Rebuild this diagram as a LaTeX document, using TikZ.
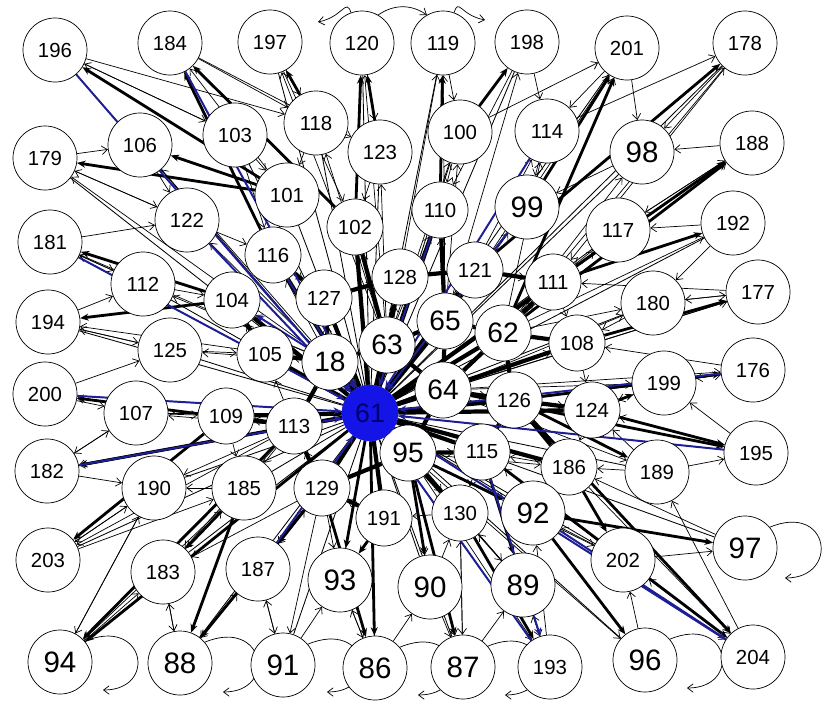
\documentclass[tikz,border=0pt]{standalone}
\usepackage{fontspec}
\setmainfont{Liberation Sans}
\usetikzlibrary{arrows.meta}
\definecolor{hubblue}{RGB}{20,20,230}
\definecolor{arcblue}{RGB}{30,30,150}
\pgfdeclarelayer{netback}
\pgfsetlayers{netback,main}
\tikzset{
    netvertex/.style={draw, circle, fill=white, inner sep=0pt, minimum size=1.6cm, line width=0.5pt, font=\fontsize{14.5}{15}\selectfont},
    netvertexinner/.style={netvertex, minimum size=1.4cm},
    netvertexbig/.style={netvertex, font=\fontsize{21}{22}\selectfont},
    netvertexcore/.style={netvertexinner, font=\fontsize{20}{21}\selectfont},
    nethub/.style={draw=hubblue, circle, fill=hubblue, inner sep=0pt, minimum size=1.4cm, text=blue!45!black, font=\fontsize{19}{20}\selectfont},
    netspoke/.style={draw, line width=0.6pt},
    netspokethick/.style={draw, line width=3pt},
    netarc/.style={draw, line width=0.5pt, -{Straight Barb[length=4pt,width=6pt]}},
    netarcthick/.style={draw, line width=2pt, -{Stealth[length=6pt,width=5pt]}},
    netarcblue/.style={draw=arcblue, line width=1.4pt, -{Stealth[length=6pt,width=5pt]}},
    netloop/.style={draw, line width=0.5pt, -{Straight Barb[length=4pt,width=6pt]}}
}
\begin{document}
\begin{tikzpicture}[x=0.025cm, y=0.025cm]
    \useasboundingbox (0,0) rectangle (828,-705);
    \foreach \n/\x/\y in {196/55/50, 184/170/43, 197/270/42, 120/362/43, 119/443/43, 198/527/42, 201/627/48, 178/745/43,
        179/45/158, 106/140/145, 103/235/135, 118/316/123, 123/380/152, 100/460/132, 114/547/131, 188/752/143,
        117/618/230, 192/733/223, 122/187/220, 181/50/242, 101/287/195,
        180/653/303, 177/758/292, 112/143/284, 194/48/322, 176/753/370,
        125/170/350, 200/45/394, 199/664/383, 195/756/453,
        107/136/413, 182/47/471, 190/154/488, 185/244/488,
        189/657/472, 202/623/560, 203/48/560, 183/163/572, 187/258/569,
        193/550/667, 204/753/657}
        \node[netvertex] (v\n) at (\x,-\y) {\n};
    \foreach \n/\x/\y in {102/355/227, 110/440/210, 116/273/255, 128/400/277, 121/475/270, 111/553/282,
        104/232/300, 127/324/298, 108/577/343, 105/265/354, 126/514/400, 124/592/410,
        109/226/416, 113/294/426, 129/322/488, 191/384/518, 115/482/452, 186/569/467, 130/460/513}
        \node[netvertexinner] (v\n) at (\x,-\y) {\n};
    \foreach \n/\x/\y in {98/642/152, 99/527/207, 92/533/513, 93/340/580, 90/430/587, 89/523/585, 97/745/548,
        94/60/662, 88/180/663, 91/283/665, 86/375/668, 87/463/667, 96/645/660}
        \node[netvertexbig] (v\n) at (\x,-\y) {\n};
    \foreach \n/\x/\y in {18/330/362, 63/387/345, 65/445/321, 62/503/333, 64/443/390, 95/408/453}
        \node[netvertexcore] (v\n) at (\x,-\y) {\n};
    \node[nethub] (v61) at (370,-413) {61};

    \begin{pgfonlayer}{netback}
    \fill[white] (0,0) rectangle (828,-705);
    \foreach \b in {196,184,197,120,119,198,201,178,179,106,103,118,123,100,114,188,101,102,110,117,192,122,181,
        116,128,121,111,180,177,112,104,127,194,108,176,125,105,200,126,124,199,195,107,109,113,182,190,185,129,
        191,115,186,189,130,202,203,183,187,193,204,98,99,92,93,90,89,97,94,88,91,86,87,96}
        \draw[netspoke] (v61) -- (v\b);
    \foreach \b in {63,65,62,64,18,95,113,129,191,127,128,102,105,116,115,126,121,110,124,186,111,108,104,109,130}
        \draw[netspokethick] (v61) -- (v\b);
    \foreach \a/\b in {63/65,65/62,62/64,64/95,95/129,129/113,113/18,18/63,63/128,65/121,62/111,64/126,95/115,
        18/127,18/105,113/109,129/191,95/130,126/124,126/186,62/108,65/110,63/102,127/116,105/104,111/121,
        64/65,63/64,18/95,126/115,62/126,128/121,127/128}
        \draw[netspokethick] (v\a) -- (v\b);
    \foreach \h/\b in {63/120,63/119,63/123,63/102,63/110,63/128,63/100,63/118,63/197,
        65/119,65/198,65/100,65/110,65/114,65/121,65/99,65/201,
        62/201,62/178,62/98,62/117,62/111,62/188,62/192,62/180,62/114,
        64/177,64/176,64/108,64/199,64/124,64/195,64/126,64/189,64/180,
        95/186,95/115,95/130,95/92,95/89,95/90,95/87,95/193,95/202,95/96,
        18/194,18/181,18/112,18/104,18/116,18/127,18/105,18/125,18/122,18/179,18/106,
        113/107,113/109,113/190,113/185,113/183,113/182,113/200,113/203,
        129/187,129/93,129/91,129/88,129/183,129/191}
        \draw[netarc] (v\h) -- (v\b);
    \foreach \a/\b in {196/103,196/118,184/118,184/123,197/118,197/102,120/123,119/100,198/110,198/114,201/114,201/98,
        178/98,178/111,188/117,188/98,192/117,192/180,177/180,177/111,176/199,176/108,195/124,195/199,189/124,
        97/186,202/92,202/115,204/202,204/189,96/202,193/92,193/89,87/130,87/89,89/130,90/130,86/93,86/90,
        91/93,91/187,88/187,88/183,94/190,94/183,203/190,203/185,183/185,187/129,182/107,182/190,200/107,200/125,
        194/112,194/125,181/112,181/122,179/106,179/122,106/122,103/116,103/101,118/101,123/102,100/110,114/99,
        98/99,117/111,180/108,199/124,189/186,186/92,185/190,107/109,109/185,125/105,112/104,122/116,116/127,
        127/128,128/121,121/111,111/108,108/124,124/186,186/115,115/130,130/191,191/129,129/113,113/105,105/104,
        100/201,114/178,117/188,180/177,199/176,189/195,202/97,92/204,186/204,130/87,89/193,90/87,93/86,187/91,
        183/88,190/94,185/94,190/203,107/182,125/194,112/181,122/179,103/196,101/184}
        \draw[netarc] (v\a) -- (v\b);
    \foreach \a/\b in {61/94,113/94,129/88,185/88,129/86,61/86,95/87,130/193,115/204,126/204,92/96,126/189,
        64/195,124/195,126/176,124/199,108/177,111/192,62/188,111/188,62/201,99/201,121/178,100/198,110/119,
        102/120,123/120,118/197,102/184,101/196,116/184,101/179,101/106,104/181,104/194,113/200,61/182,113/182,
        109/203,185/183,129/187,191/93,61/93,95/90,115/89,95/92,186/202,92/97}
        \draw[netarcthick] (v\a) -- (v\b);
    \foreach \a in {196,184,181,200,182,187,193,204,195,176,99,114,110,122,116}
        \draw[netarcblue] (v\a) -- (v61);
    \draw[netarcblue] (v92) -- (v204);
    \draw[netarcblue] (v115) -- (v193);
    \draw[netarcblue] (v18) -- (v104);
    \foreach \n/\ex/\ey in {94/103/690, 88/223/692, 91/327/692, 86/418/695, 87/505/695, 96/687/688, 97/785/578} {
        \coordinate (e\n) at (\ex,-\ey);
        \draw[netloop] (v\n.40) .. controls +(60,25) and +(55,0) .. (e\n);
    }
    \coordinate (e120) at (318,-22);
    \coordinate (e119) at (485,-20);
    \draw[netloop] (v120.110) .. controls +(-5,15) and +(25,5) .. (e120);
    \draw[netarc] (v120.60) to[bend left=35] (v119.120);
    \draw[netloop] (v119.70) .. controls +(5,15) and +(-25,5) .. (e119);
    \end{pgfonlayer}
\end{tikzpicture}
\end{document}
